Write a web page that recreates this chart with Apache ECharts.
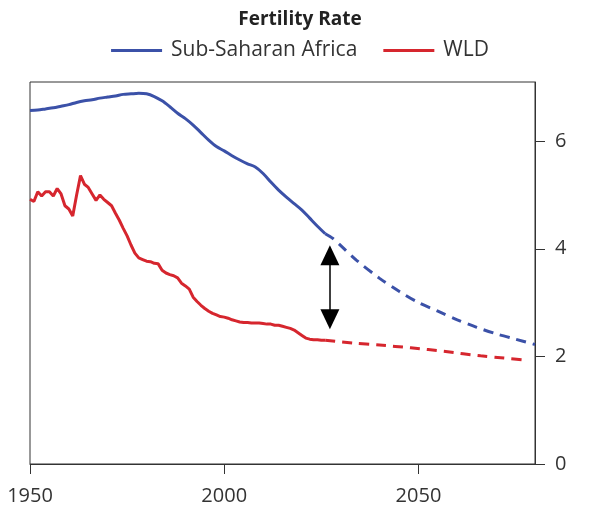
<!DOCTYPE html>
<html>
<head>
<meta charset="utf-8">
<script src="https://cdn.jsdelivr.net/npm/echarts@6/dist/echarts.min.js"></script>
<style>
  html, body { margin: 0; padding: 0; background: #fff; }
  #chart { width: 600px; height: 506px; }
</style>
</head>
<body>
<div id="chart"></div>
<script>
// Sub-Saharan Africa, estimates (solid) and projection (dashed)
var ssaYears = [1950, 1952, 1954, 1956, 1958, 1960, 1962, 1964, 1966, 1968, 1970, 1972, 1974, 1976, 1978, 1980, 1982, 1984, 1986, 1988, 1990, 1992, 1994, 1996, 1998, 2000, 2002, 2004, 2006, 2008, 2010, 2012, 2014, 2016, 2018, 2020, 2022, 2024, 2026];
var ssaValues = [6.57, 6.58, 6.60, 6.62, 6.65, 6.68, 6.72, 6.75, 6.77, 6.80, 6.82, 6.84, 6.87, 6.88, 6.89, 6.88, 6.83, 6.75, 6.64, 6.52, 6.42, 6.30, 6.16, 6.02, 5.90, 5.82, 5.73, 5.65, 5.58, 5.52, 5.40, 5.24, 5.09, 4.96, 4.84, 4.72, 4.57, 4.42, 4.28];
var ssaProjYears = [2026, 2028, 2030, 2034, 2040, 2045, 2050, 2055, 2060, 2065, 2070, 2075, 2080];
var ssaProjValues = [4.28, 4.19, 4.06, 3.79, 3.45, 3.21, 3.00, 2.84, 2.68, 2.54, 2.42, 2.32, 2.22];

// World
var wldYears = [];
for (var y = 1950; y <= 2026; y++) wldYears.push(y);
var wldValues = [4.92, 4.88, 5.06, 4.98, 5.06, 5.06, 4.98, 5.12, 5.02, 4.80,
                 4.74, 4.61, 5.00, 5.36, 5.20, 5.14, 5.02, 4.90, 5.00, 4.92,
                 4.86, 4.80, 4.66, 4.53, 4.38, 4.24, 4.07, 3.92, 3.83, 3.80,
                 3.77, 3.76, 3.73, 3.72, 3.60, 3.55, 3.52, 3.50, 3.46, 3.36,
                 3.31, 3.25, 3.10, 3.02, 2.95, 2.89, 2.84, 2.80, 2.77, 2.74,
                 2.73, 2.71, 2.68, 2.66, 2.64, 2.63, 2.63, 2.62, 2.62, 2.62,
                 2.61, 2.60, 2.60, 2.58, 2.58, 2.56, 2.54, 2.52, 2.49, 2.44,
                 2.39, 2.34, 2.32, 2.31, 2.31, 2.30, 2.30];
var wldProjYears = [2026, 2033, 2040, 2048, 2057, 2066, 2072, 2078];
var wldProjValues = [2.30, 2.25, 2.21, 2.16, 2.09, 2.01, 1.97, 1.93];

// gap arrow (year, top value, bottom value)
var gapArrow = [2027.2, 3.88, 2.69];

var xTicks = [1950, 2000, 2050];
var yTicks = [0, 2, 4, 6];

function pairs(xs, vs) {
    return xs.map(function (x, i) { return [x, vs[i]]; });
}

var blue = '#3b51a8';
var red = '#d6262e';
var font = 'Open Sans';

var option = {
    animation: false,
    title: {
        text: 'Fertility Rate',
        left: 'center',
        top: 5,
        textStyle: { fontFamily: font, fontSize: 19, fontWeight: 'bold', color: '#222' }
    },
    legend: {
        top: 35,
        left: 'center',
        data: ['Sub-Saharan Africa', 'WLD'],
        icon: 'rect',
        itemWidth: 51,
        itemHeight: 3,
        itemGap: 26,
        textStyle: { fontFamily: font, fontSize: 21, color: '#333', padding: [0, 0, 0, 4] }
    },
    grid: {
        left: 30,
        right: 65,
        top: 82,
        bottom: 42,
        show: true,
        borderColor: '#333',
        borderWidth: 1
    },
    xAxis: {
        type: 'value',
        min: 1950,
        max: 2080,
        axisLine: { lineStyle: { color: '#333', width: 1 } },
        axisTick: { length: 10, lineStyle: { color: '#333' }, customValues: xTicks },
        axisLabel: {
            fontFamily: font, fontSize: 20, color: '#333', margin: 22,
            customValues: xTicks,
            formatter: function (v) { return String(v); }
        },
        splitLine: { show: false }
    },
    yAxis: {
        type: 'value',
        position: 'right',
        min: 0,
        max: 7.1,
        axisLine: { show: true, lineStyle: { color: '#333', width: 1 } },
        axisTick: { show: true, length: 10, lineStyle: { color: '#333' }, customValues: yTicks },
        axisLabel: { fontFamily: font, fontSize: 20, color: '#333', margin: 20, customValues: yTicks },
        splitLine: { show: false }
    },
    series: [
        {
            name: 'Sub-Saharan Africa',
            type: 'line',
            data: pairs(ssaYears, ssaValues),
            showSymbol: false,
            smooth: 0.3,
            itemStyle: { color: blue },
            lineStyle: { color: blue, width: 3 }
        },
        {
            name: 'ssa-proj',
            type: 'line',
            data: pairs(ssaProjYears, ssaProjValues),
            showSymbol: false,
            smooth: 0.3,
            itemStyle: { color: blue },
            lineStyle: { color: blue, width: 3, type: [10, 7] }
        },
        {
            name: 'WLD',
            type: 'line',
            data: pairs(wldYears, wldValues),
            showSymbol: false,
            itemStyle: { color: red },
            lineStyle: { color: red, width: 3 }
        },
        {
            name: 'wld-proj',
            type: 'line',
            data: pairs(wldProjYears, wldProjValues),
            showSymbol: false,
            smooth: 0.3,
            itemStyle: { color: red },
            lineStyle: { color: red, width: 3, type: [10, 7] },
            markLine: {
                silent: true,
                symbol: ['triangle', 'triangle'],
                symbolSize: [19, 20],
                label: { show: false },
                lineStyle: { color: '#000', width: 1.5, type: 'solid' },
                itemStyle: { color: '#000' },
                data: [[
                    { coord: [gapArrow[0], gapArrow[1]] },
                    { coord: [gapArrow[0], gapArrow[2]] }
                ]]
            }
        }
    ]
};

var myChart = echarts.init(document.getElementById('chart'));
myChart.setOption(option);
</script>
</body>
</html>
